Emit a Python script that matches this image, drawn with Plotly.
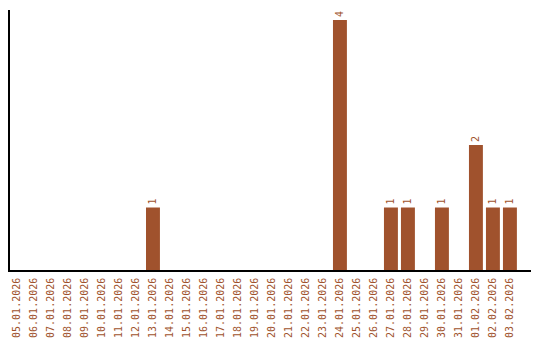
import plotly.graph_objects as go

dates = ["05.01.2026", "06.01.2026", "07.01.2026", "08.01.2026", "09.01.2026",
         "10.01.2026", "11.01.2026", "12.01.2026", "13.01.2026", "14.01.2026",
         "15.01.2026", "16.01.2026", "17.01.2026", "18.01.2026", "19.01.2026",
         "20.01.2026", "21.01.2026", "22.01.2026", "23.01.2026", "24.01.2026",
         "25.01.2026", "26.01.2026", "27.01.2026", "28.01.2026", "29.01.2026",
         "30.01.2026", "31.01.2026", "01.02.2026", "02.02.2026", "03.02.2026"]
counts = [0, 0, 0, 0, 0, 0, 0, 0, 1, 0,
          0, 0, 0, 0, 0, 0, 0, 0, 0, 4,
          0, 0, 1, 1, 0, 1, 0, 2, 1, 1]

color = "#a0522d"
labels = [str(v) if v > 0 else "" for v in counts]

fig = go.Figure(go.Bar(
    x=dates, y=counts, marker_color=color, marker_line_width=0,
    width=0.82,
    text=labels, textposition="outside", textangle=-90,
    textfont=dict(family="DejaVu Sans Mono", size=10, color=color),
    cliponaxis=False,
))
fig.update_layout(
    width=540, height=340,
    margin=dict(l=10, r=9, t=10, b=70),
    plot_bgcolor="white", paper_bgcolor="white",
    showlegend=False,
    bargap=0.18,
)
fig.update_xaxes(
    type="category", range=[-0.41, 30.24], automargin=False,
    tickangle=-90, showline=True, linecolor="black", linewidth=1.5,
    showgrid=False, ticks="outside", ticklen=2, tickcolor="rgba(0,0,0,0)",
    tickfont=dict(family="DejaVu Sans Mono", size=10, color=color),
)
fig.update_yaxes(
    range=[0, 4.16], showline=True, linecolor="black", linewidth=1.5,
    showgrid=False, showticklabels=False, ticks="", zeroline=False,
    automargin=False,
)
fig.write_html("out.html")
